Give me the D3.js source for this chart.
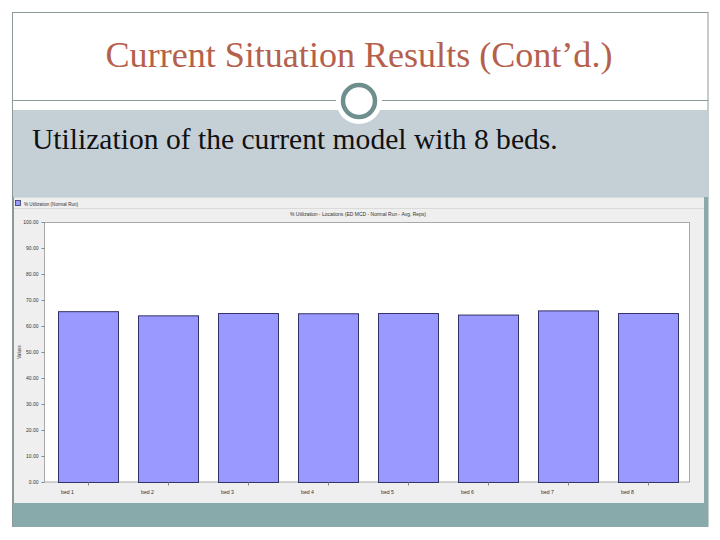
<!DOCTYPE html>
<html>
<head>
<meta charset="utf-8">
<script src="https://cdn.jsdelivr.net/npm/d3@7"></script>
<style>
  html, body { margin: 0; padding: 0; background: #ffffff; }
  svg { display: block; }
</style>
</head>
<body>
<script>
// ---- data ----
const slideTitle = "Current Situation Results (Cont\u2019d.)";
const slideText = "Utilization of the current model with 8 beds.";
const chartTitle = "% Utilization - Locations (ED MCD - Normal Run - Avg. Reps)";
const legendLabel = "% Utilization (Normal Run)";
const yAxisLabel = "Values";
const beds = ["bed 1", "bed 2", "bed 3", "bed 4", "bed 5", "bed 6", "bed 7", "bed 8"];
const utilization = [65.7, 64.1, 65.0, 64.9, 65.0, 64.4, 66.0, 65.0];
const yTicks = [0, 10, 20, 30, 40, 50, 60, 70, 80, 90, 100];

const W = 720, H = 540;
const svg = d3.select("body").append("svg").attr("width", W).attr("height", H);

// slide background
svg.append("rect").attr("x", 0).attr("y", 0).attr("width", W).attr("height", H).attr("fill", "#ffffff");

// slide frame
svg.append("rect").attr("x", 12.5).attr("y", 12.5).attr("width", 695.5).attr("height", 514)
  .attr("fill", "#ffffff").attr("stroke", "#8c9999").attr("stroke-width", 1);

// gray band behind subtitle
svg.append("rect").attr("x", 13).attr("y", 110).attr("width", 695).attr("height", 88).attr("fill", "#c5d0d6");

// bottom teal band
svg.append("rect").attr("x", 13).attr("y", 503).attr("width", 695).attr("height", 24).attr("fill", "#89aaaa");
// right teal strip beside chart
svg.append("rect").attr("x", 704).attr("y", 197).attr("width", 4).attr("height", 306).attr("fill", "#89aaaa");

// separator line + circle
svg.append("line").attr("x1", 12).attr("x2", 708).attr("y1", 100.5).attr("y2", 100.5)
  .attr("stroke", "#8c9999").attr("stroke-width", 1);
svg.append("circle").attr("cx", 359).attr("cy", 101).attr("r", 23).attr("fill", "#ffffff");
svg.append("circle").attr("cx", 359).attr("cy", 101).attr("r", 16).attr("fill", "#ffffff")
  .attr("stroke", "#6f8f8e").attr("stroke-width", 4.5);

// fit helper
function fitText(sel, targetWidth, baseSize) {
  const n = sel.node();
  const w = n.getComputedTextLength();
  sel.attr("font-size", baseSize * targetWidth / w);
}

// slide title
const t1 = svg.append("text").attr("x", 359).attr("y", 67).attr("text-anchor", "middle")
  .attr("font-family", "Liberation Serif, serif").attr("font-size", 30).attr("fill", "#b5604b")
  .text(slideTitle);
fitText(t1, 507, 30);

// subtitle
const t2 = svg.append("text").attr("x", 32).attr("y", 149)
  .attr("font-family", "Liberation Serif, serif").attr("font-size", 26).attr("fill", "#111111")
  .text(slideText);
fitText(t2, 526, 26);

// chart panel
const panel = svg.append("g");
panel.append("rect").attr("x", 13).attr("y", 197).attr("width", 691).attr("height", 306).attr("fill", "#efefef");
panel.append("line").attr("x1", 13).attr("x2", 704).attr("y1", 208.5).attr("y2", 208.5).attr("stroke", "#dadada");
panel.append("line").attr("x1", 13).attr("x2", 704).attr("y1", 197.5).attr("y2", 197.5).attr("stroke", "#d6dcdf");
panel.append("line").attr("x1", 13.5).attr("x2", 13.5).attr("y1", 197).attr("y2", 503).attr("stroke", "#8a9a9a");

// legend
panel.append("rect").attr("x", 15.5).attr("y", 200.5).attr("width", 5).attr("height", 5)
  .attr("fill", "#9999ff").attr("stroke", "#333366").attr("stroke-width", 0.8);
panel.append("text").attr("x", 24).attr("y", 205.5).attr("font-family", "Liberation Sans, sans-serif")
  .attr("font-size", 4.6).attr("fill", "#333").text(legendLabel);

// chart title
panel.append("text").attr("x", 358).attr("y", 216).attr("text-anchor", "middle")
  .attr("font-family", "Liberation Sans, sans-serif").attr("font-size", 5).attr("fill", "#333")
  .text(chartTitle);

// scales
const x = d3.scaleBand().domain(beds).range([48, 688]).paddingInner(0.25).paddingOuter(0.125);
const y = d3.scaleLinear().domain([0, 100]).range([482, 222]);

// plot area
panel.append("rect").attr("x", 44.5).attr("y", 222.5).attr("width", 645).attr("height", 259.5)
  .attr("fill", "#ffffff").attr("stroke", "#a8a8a8").attr("stroke-width", 1);

// bars
panel.append("g").selectAll("rect").data(beds).join("rect")
  .attr("x", d => x(d) + 0.5)
  .attr("y", (d, i) => y(utilization[i]) + 0.5)
  .attr("width", x.bandwidth())
  .attr("height", (d, i) => y(0) - y(utilization[i]))
  .attr("fill", "#9999ff").attr("stroke", "#333366").attr("stroke-width", 1);

// y axis
const yAxis = panel.append("g").attr("transform", "translate(44.5,0)")
  .call(d3.axisLeft(y).tickValues(yTicks).tickFormat(d3.format(".2f")).tickSize(3).tickPadding(3));
yAxis.select(".domain").remove();
yAxis.selectAll("line").attr("stroke", "#888");
yAxis.selectAll("text").attr("font-family", "Liberation Sans, sans-serif").attr("font-size", 5).attr("fill", "#333");

// x axis
const xAxis = panel.append("g").attr("transform", "translate(0,482.5)")
  .call(d3.axisBottom(x).tickSize(3).tickPadding(5));
xAxis.select(".domain").remove();
xAxis.selectAll("line").attr("stroke", "#888").attr("transform", "translate(0.5,0)");
xAxis.selectAll("text").attr("font-family", "Liberation Sans, sans-serif").attr("font-size", 5.2)
  .attr("fill", "#333").attr("text-anchor", "start").attr("x", -x.bandwidth() / 2 + 3);

// y label
panel.append("text").attr("transform", "translate(21,352) rotate(-90)").attr("text-anchor", "middle")
  .attr("font-family", "Liberation Sans, sans-serif").attr("font-size", 4.6).attr("fill", "#333")
  .text(yAxisLabel);
</script>
</body>
</html>
